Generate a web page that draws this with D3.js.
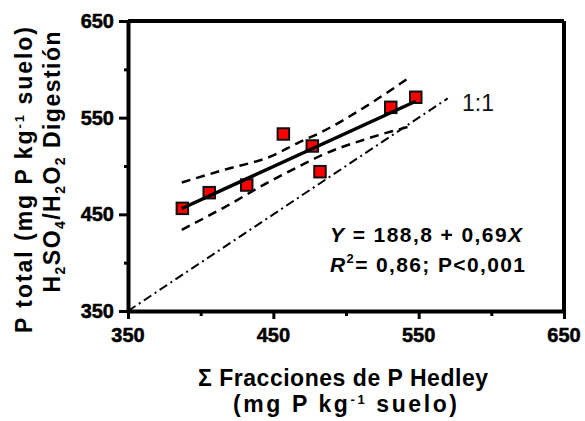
<!DOCTYPE html>
<html>
<head>
<meta charset="utf-8">
<script src="https://cdn.jsdelivr.net/npm/d3@7"></script>
<style>
  html, body { margin: 0; padding: 0; background: #fff; }
</style>
</head>
<body>
<div id="chart"></div>
<script>
// Sum of Hedley fractions vs total P (H2SO4/H2O2 digestion), mg P kg-1 soil
const hedleyX = [387.4, 405.9, 431.7, 456.9, 476.8, 482.1, 530.8, 548.0];
const digestY = [456.2, 472.4, 480.3, 533.1, 520.7, 494.1, 560.7, 571.1];

// fitted line end points and confidence band
const fitX = [387, 548];
const fitY = [456, 567];
const bandX = [387, 416, 450, 467, 483, 514, 544];
const bandUpper = [483, 496, 511, 524, 535, 562, 592];
const bandLower = [434, 457, 486, 499, 511, 528, 541];

// 1:1 reference line
const refX = [350, 570];
const refY = [350, 570];

const majorTicks = [350, 450, 550, 650];
const minorTicks = [400, 500, 600];

const W = 585, H = 421;
const margin = { left: 128, right: 21, top: 21, bottom: 110 };
const FONT = '"Liberation Sans", Arial, sans-serif';

const svg = d3.select('#chart').append('svg')
    .attr('width', W)
    .attr('height', H)
    .style('font-family', FONT);

const x = d3.scaleLinear().domain([350, 650]).range([margin.left, W - margin.right]);
const y = d3.scaleLinear().domain([350, 650]).range([H - margin.bottom, margin.top]);

// text helper
function label(parent, size, bold) {
    return parent.append('text')
        .style('font-family', FONT)
        .style('font-size', size + 'px')
        .style('font-weight', bold ? 'bold' : 'normal')
        .attr('fill', '#000');
}

// Frame (top and right border without ticks)
svg.append('line')
    .attr('x1', x(350)).attr('x2', x(650))
    .attr('y1', y(650)).attr('y2', y(650))
    .attr('stroke', '#000').attr('stroke-width', 4);
svg.append('line')
    .attr('x1', x(650)).attr('x2', x(650))
    .attr('y1', y(350)).attr('y2', y(650))
    .attr('stroke', '#000').attr('stroke-width', 4);

// Axes: lines and ticks from d3.axis, labels drawn separately in bold
function axisLines(g) {
    g.select('.domain').attr('stroke-width', 4);
    g.selectAll('.tick line').attr('stroke-width', 3);
    g.selectAll('.tick text').remove();
}

svg.append('g')
    .attr('transform', `translate(0,${y(350)})`)
    .call(d3.axisBottom(x).tickValues(majorTicks).tickSize(8).tickSizeOuter(0))
    .call(axisLines);
svg.append('g')
    .attr('transform', `translate(0,${y(350)})`)
    .call(d3.axisBottom(x).tickValues(minorTicks).tickSize(5).tickSizeOuter(0))
    .call(axisLines)
    .call(g => g.select('.domain').remove());

svg.append('g')
    .attr('transform', `translate(${x(350)},0)`)
    .call(d3.axisLeft(y).tickValues(majorTicks).tickSize(9).tickSizeOuter(0))
    .call(axisLines);
svg.append('g')
    .attr('transform', `translate(${x(350)},0)`)
    .call(d3.axisLeft(y).tickValues(minorTicks).tickSize(4).tickSizeOuter(0))
    .call(axisLines)
    .call(g => g.select('.domain').remove());

majorTicks.forEach(v => {
    label(svg, 20, true)
        .attr('x', x(v)).attr('y', y(350) + 31)
        .attr('text-anchor', 'middle')
        .attr('stroke', '#000').attr('stroke-width', 0.5)
        .text(v);
    label(svg, 20, true)
        .attr('x', x(350) - 14).attr('y', y(v) + 7)
        .attr('text-anchor', 'end')
        .attr('stroke', '#000').attr('stroke-width', 0.5)
        .text(v);
});

// 1:1 dash-dot line
const line = d3.line().x(d => x(d[0])).y(d => y(d[1]));
svg.append('path')
    .datum(d3.zip(refX, refY))
    .attr('d', line)
    .attr('fill', 'none')
    .attr('stroke', '#000')
    .attr('stroke-width', 2)
    .attr('stroke-dasharray', '9,4,2,4');

label(svg, 23, false)
    .attr('x', 462).attr('y', 111)
    .attr('fill', '#111')
    .text('1:1');

// Confidence bands
const bandLine = d3.line().x(d => x(d[0])).y(d => y(d[1])).curve(d3.curveMonotoneX);
[bandUpper, bandLower].forEach(b => {
    svg.append('path')
        .datum(d3.zip(bandX, b))
        .attr('d', bandLine)
        .attr('fill', 'none')
        .attr('stroke', '#000')
        .attr('stroke-width', 2.5)
        .attr('stroke-dasharray', '9,6');
});

// Data points
const sq = 11.5;
svg.append('g').selectAll('rect')
    .data(d3.zip(hedleyX, digestY))
    .enter()
    .append('rect')
    .attr('x', d => x(d[0]) - sq / 2)
    .attr('y', d => y(d[1]) - sq / 2)
    .attr('width', sq)
    .attr('height', sq)
    .attr('fill', '#ff0000')
    .attr('stroke', '#111')
    .attr('stroke-width', 2);

// Regression line (drawn over the points as in the figure)
svg.append('path')
    .datum(d3.zip(fitX, fitY))
    .attr('d', line)
    .attr('fill', 'none')
    .attr('stroke', '#000')
    .attr('stroke-width', 3.5);

// Equation
const eq1 = label(svg, 21, true)
    .attr('x', 330).attr('y', 242)
    .attr('textLength', 192).attr('lengthAdjust', 'spacing');
eq1.append('tspan').style('font-style', 'italic').text('Y');
eq1.append('tspan').text(' = 188,8 + 0,69');
eq1.append('tspan').style('font-style', 'italic').text('X');

const eq2 = label(svg, 21, true)
    .attr('x', 330).attr('y', 271.5)
    .attr('textLength', 195).attr('lengthAdjust', 'spacing');
eq2.append('tspan').style('font-style', 'italic').text('R');
eq2.append('tspan').style('font-size', '13px').attr('dy', -9).text('2');
eq2.append('tspan').attr('dy', 9).text('= 0,86; P<0,001');

// X axis title
label(svg, 23, true)
    .attr('x', 343).attr('y', 386)
    .attr('text-anchor', 'middle')
    .attr('textLength', 290).attr('lengthAdjust', 'spacing')
    .text('\u03A3 Fracciones de P Hedley');

const xt2 = label(svg, 23, true)
    .attr('x', 345).attr('y', 412)
    .attr('text-anchor', 'middle')
    .attr('textLength', 224).attr('lengthAdjust', 'spacing');
xt2.append('tspan').text('(mg P kg');
xt2.append('tspan').style('font-size', '13px').attr('dy', -8).text('-1');
xt2.append('tspan').attr('dy', 8).text(' suelo)');

// Y axis title (two rotated lines)
const yt1 = label(svg, 23, true)
    .attr('transform', 'translate(32,180) rotate(-90)')
    .attr('text-anchor', 'middle')
    .attr('textLength', 306).attr('lengthAdjust', 'spacing');
yt1.append('tspan').text('P total (mg P kg');
yt1.append('tspan').style('font-size', '13px').attr('dy', -8).text('-1');
yt1.append('tspan').attr('dy', 8).text(' suelo)');

const yt2 = label(svg, 23, true)
    .attr('transform', 'translate(60,162) rotate(-90)')
    .attr('text-anchor', 'middle')
    .attr('textLength', 261).attr('lengthAdjust', 'spacing');
[['H', 0], ['2', 1], ['SO', 0], ['4', 1], ['/H', 0], ['2', 1], ['O', 0], ['2', 1], [' Digesti\u00f3n', 0]]
    .forEach((p, i, arr) => {
        const prevSub = i > 0 && arr[i - 1][1] === 1;
        const t = yt2.append('tspan').text(p[0]);
        if (p[1] === 1) t.style('font-size', '14px').attr('dy', 5);
        else if (prevSub) t.attr('dy', -5);
    });
</script>
</body>
</html>
